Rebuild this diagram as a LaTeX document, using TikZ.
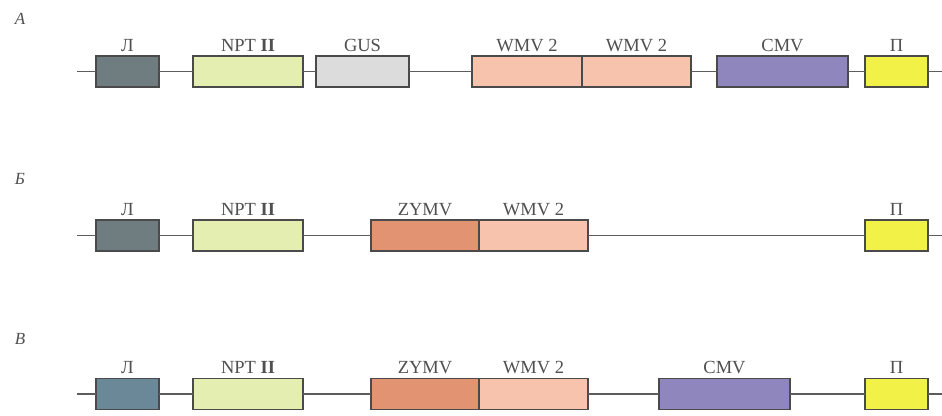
\documentclass[tikz,border=0pt]{standalone}
\usepackage{fontspec}
\setmainfont{Liberation Serif}
\definecolor{cL}{HTML}{6F7D80}
\definecolor{cLb}{HTML}{6A8898}
\definecolor{cNPT}{HTML}{E3EEB0}
\definecolor{cGUS}{HTML}{DCDCDC}
\definecolor{cWMV}{HTML}{F7C3AC}
\definecolor{cZY}{HTML}{E29472}
\definecolor{cCMV}{HTML}{8E86BD}
\definecolor{cP}{HTML}{F1F148}
\definecolor{cEdge}{HTML}{4A4A4A}
\definecolor{cTxt}{HTML}{505050}
\newcommand{\nptlab}{NPT \textbf{II}}
\begin{document}
\begin{tikzpicture}[x=1pt,y=-1pt,
  gene/.style={draw=cEdge, line width=1.4pt, minimum height=31pt, inner sep=0pt, outer sep=0pt},
  lab/.style={text=cTxt, font=\fontsize{18.5}{20}\selectfont, label distance=1pt},
  rowlab/.style={text=cTxt, font=\fontsize{17}{19}\selectfont\itshape},
  dna/.style={draw=cEdge!90, line width=1.5pt}]
\useasboundingbox (0,0) rectangle (942,415);
\fill[white] (0,0) rectangle (942,415);

% Row A
\node[rowlab] (ra) at (20,19) {А};
\coordinate (sa) at (77,71.5);
\coordinate (ea) at (942,71.5);
\node[gene, fill=cL, minimum width=63pt, label={[lab]above:Л}] (La) at (127.5,71.5) {};
\node[gene, fill=cNPT, minimum width=110pt, label={[lab]above:\nptlab}] (Na) at (248,71.5) {};
\node[gene, fill=cGUS, minimum width=93pt, label={[lab]above:GUS}] (Ga) at (362.5,71.5) {};
\node[gene, fill=cWMV, minimum width=110pt, label={[lab]above:WMV 2}] (W1a) at (527,71.5) {};
\node[gene, fill=cWMV, minimum width=109pt, label={[lab]above:WMV 2}] (W2a) at (636.5,71.5) {};
\node[gene, fill=cCMV, minimum width=131pt, label={[lab]above:CMV}] (Ca) at (782.5,71.5) {};
\node[gene, fill=cP, minimum width=63pt, label={[lab]above:П}] (Pa) at (896.5,71.5) {};
\draw[dna] (sa) -- (La.west) (La.east) -- (Na.west) (Na.east) -- (Ga.west)
  (Ga.east) -- (W1a.west) (W2a.east) -- (Ca.west) (Ca.east) -- (Pa.west) (Pa.east) -- (ea);

% Row B
\node[rowlab] (rb) at (20,179) {Б};
\coordinate (sb) at (77,235.5);
\coordinate (eb) at (942,235.5);
\node[gene, fill=cL, minimum width=63pt, label={[lab]above:Л}] (Lb) at (127.5,235.5) {};
\node[gene, fill=cNPT, minimum width=110pt, label={[lab]above:\nptlab}] (Nb) at (248,235.5) {};
\node[gene, fill=cZY, minimum width=108pt, label={[lab]above:ZYMV}] (Zb) at (425,235.5) {};
\node[gene, fill=cWMV, minimum width=109pt, label={[lab]above:WMV 2}] (Wb) at (533.5,235.5) {};
\node[gene, fill=cP, minimum width=63pt, label={[lab]above:П}] (Pb) at (896.5,235.5) {};
\draw[dna] (sb) -- (Lb.west) (Lb.east) -- (Nb.west) (Nb.east) -- (Zb.west)
  (Wb.east) -- (Pb.west) (Pb.east) -- (eb);

% Row C
\node[rowlab] (rc) at (20,339) {В};
\coordinate (sc) at (77,394);
\coordinate (ec) at (942,394);
\node[gene, fill=cLb, minimum width=63pt, label={[lab]above:Л}] (Lc) at (127.5,394) {};
\node[gene, fill=cNPT, minimum width=110pt, label={[lab]above:\nptlab}] (Nc) at (248,394) {};
\node[gene, fill=cZY, minimum width=108pt, label={[lab]above:ZYMV}] (Zc) at (425,394) {};
\node[gene, fill=cWMV, minimum width=109pt, label={[lab]above:WMV 2}] (Wc) at (533.5,394) {};
\node[gene, fill=cCMV, minimum width=131pt, label={[lab]above:CMV}] (Cc) at (724.5,394) {};
\node[gene, fill=cP, minimum width=63pt, label={[lab]above:П}] (Pc) at (896.5,394) {};
\draw[dna] (sc) -- (Lc.west) (Lc.east) -- (Nc.west) (Nc.east) -- (Zc.west)
  (Wc.east) -- (Cc.west) (Cc.east) -- (Pc.west) (Pc.east) -- (ec);
\end{tikzpicture}
\end{document}
